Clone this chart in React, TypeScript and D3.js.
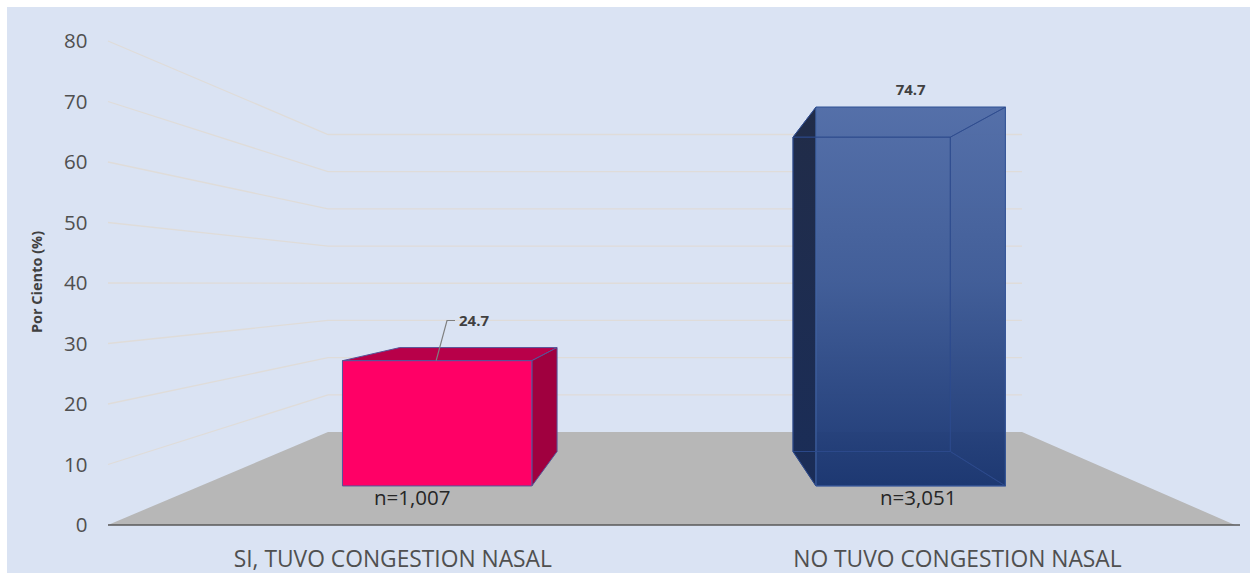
import React from "react";
import * as d3 from "d3";

const categories = ["SI, TUVO CONGESTION NASAL", "NO TUVO CONGESTION NASAL"];
const percents = [24.7, 74.7];
const counts = ["n=1,007", "n=3,051"];
const yTicks = [0, 10, 20, 30, 40, 50, 60, 70, 80];

const width = 1250;
const height = 573;
const font = "'Open Sans', sans-serif";

// the 3D box of the chart: front plane and back wall as screen positions
const frontY = d3.scaleLinear().domain([0, 80]).range([525, 41]);
const backY = d3.scaleLinear().domain([0, 80]).range([432, 134.5]);
const leftX = d3.scaleLinear().domain([0, 1]).range([108, 328]);
const rightX = d3.scaleLinear().domain([0, 1]).range([1235, 1022]);

// bars sit between these two depths
const barFront = 0.42;
const barBack = 0.79;

const band = d3
  .scaleBand<string>()
  .domain(categories)
  .range([0, 1.002])
  .paddingInner(0.6)
  .paddingOuter(0.3);

// u: across the floor (0-1), v: value, t: depth (0 front, 1 back)
const project = (u: number, v: number, t: number): [number, number] => {
  const x = leftX(t) + u * (rightX(t) - leftX(t));
  const y = frontY(v) + t * (backY(v) - frontY(v));
  return [x, y];
};

const poly = (pts: [number, number][]) => d3.line()(pts) + "Z";

const barFaces = (cat: string, val: number) => {
  const u0 = band(cat) as number;
  const u1 = u0 + band.bandwidth();
  const ftl = project(u0, val, barFront);
  const ftr = project(u1, val, barFront);
  const fbl = project(u0, 0, barFront);
  const fbr = project(u1, 0, barFront);
  const btl = project(u0, val, barBack);
  const btr = project(u1, val, barBack);
  const bbl = project(u0, 0, barBack);
  const bbr = project(u1, 0, barBack);
  return {
    front: poly([ftl, ftr, fbr, fbl]),
    back: poly([btl, btr, bbr, bbl]),
    left: poly([btl, ftl, fbl, bbl]),
    right: poly([ftr, btr, bbr, fbr]),
    top: poly([ftl, btl, btr, ftr]),
    bottom: poly([fbl, bbl, bbr, fbr]),
    ftl,
    ftr,
    btl,
    btr,
    fbl,
    fbr,
  };
};

const App = () => {
  const floor = poly([project(0, 0, 0), project(0, 0, 1), project(1, 0, 1), project(1, 0, 0)]);
  const red = barFaces(categories[0], percents[0]);
  const blue = barFaces(categories[1], percents[1]);
  const redEdge = "#55559a";
  const blueEdge = "#2d4b8e";

  // leader line of the first label starts on the top front edge of the bar
  const leaderStart = [(red.ftl[0] + red.ftr[0]) / 2 - 1, red.ftl[1]];

  return (
    <svg
      width={width}
      height={height}
      style={{ position: "absolute", left: 0, top: 0, background: "#fff" }}
    >
      <defs>
        <linearGradient id="blueFace" gradientUnits="userSpaceOnUse" x1={0} x2={0} y1={blue.ftl[1]} y2={blue.fbl[1]}>
          <stop offset="0%" stopColor="#4f6ba6" />
          <stop offset="46%" stopColor="#3c5995" />
          <stop offset="100%" stopColor="#17336f" />
        </linearGradient>
        <linearGradient id="blueSide" gradientUnits="userSpaceOnUse" x1={0} x2={0} y1={blue.ftl[1]} y2={blue.fbl[1]}>
          <stop offset="0%" stopColor="#212c48" />
          <stop offset="100%" stopColor="#1a2d58" />
        </linearGradient>
      </defs>
      <rect x={7} y={7} width={width - 7} height={height - 7} fill="#dae3f3" />

      {/* floor */}
      <path d={floor} fill="#b7b7b7" />

      {/* gridlines bend at the back wall */}
      {yTicks
        .filter((t) => t > 0)
        .map((t) => (
          <path
            key={t}
            d={d3.line()([project(0, t, 0), project(0, t, 1), project(1, t, 1)]) as string}
            fill="none"
            stroke="#dfdcd9"
            strokeWidth={1.3}
          />
        ))}

      {/* axis baseline */}
      <line x1={108} x2={1240} y1={frontY(0)} y2={frontY(0)} stroke="#595959" strokeWidth={1.6} />

      {/* y ticks */}
      {yTicks.map((t) => (
        <text
          key={t}
          x={87.5}
          y={frontY(t)}
          dy="0.35em"
          textAnchor="end"
          fontFamily={font}
          fontSize={20.5}
          fill="#505050"
        >
          {t}
        </text>
      ))}

      <text
        transform="translate(42,282) rotate(-90)"
        textAnchor="middle"
        fontFamily={font}
        fontSize={14.5}
        fontWeight={700}
        fill="#404040"
      >
        Por Ciento (%)
      </text>

      {/* red bar */}
      <g stroke={redEdge} strokeWidth={1}>
        <path d={red.top} fill="#b80049" />
        <path d={red.right} fill="#a0003f" />
        <path d={red.front} fill="#ff0066" />
      </g>

      {/* blue bar: dark left side, the rest one see-through front face */}
      <path d={blue.left} fill="url(#blueSide)" stroke="#27407c" strokeWidth={1} />
      <path d={blue.front} fill="url(#blueFace)" fillOpacity={0.96} stroke="#4468a8" strokeWidth={1} />
      <g fill="none" stroke={blueEdge} strokeWidth={1} strokeOpacity={0.75}>
        <path d={blue.right} />
        <path d={blue.top} />
        <path d={blue.bottom} />
        <path d={blue.back} />
      </g>

      {/* leader + value labels */}
      <path
        d={`M${leaderStart[0]},${leaderStart[1]}L447,320.5H455`}
        fill="none"
        stroke="#7f7f7f"
        strokeWidth={1.2}
      />
      <text x={459} y={321} dy="0.35em" fontFamily={font} fontSize={15} fontWeight={700} fill="#404040">
        {percents[0]}
      </text>
      <text
        x={(blue.ftl[0] + blue.ftr[0]) / 2}
        y={90}
        dy="0.35em"
        textAnchor="middle"
        fontFamily={font}
        fontSize={15}
        fontWeight={700}
        fill="#404040"
      >
        {percents[1]}
      </text>

      {/* n labels */}
      {[red, blue].map((b, i) => (
        <text
          key={counts[i]}
          x={(b.fbl[0] + b.fbr[0]) / 2 - (i === 0 ? 25 : -7.5)}
          y={b.fbl[1] + 12}
          dy="0.35em"
          textAnchor="middle"
          fontFamily={font}
          fontSize={20.5}
          fill="#262626"
        >
          {counts[i]}
        </text>
      ))}

      {/* category labels */}
      {categories.map((c) => (
        <text
          key={c}
          x={project((band(c) as number) + band.bandwidth() / 2, 0, 0)[0] + 2.5}
          y={559}
          dy="0.35em"
          textAnchor="middle"
          fontFamily={font}
          fontSize={22.8}
          fill="#505050"
        >
          {c}
        </text>
      ))}
    </svg>
  );
};

export default App;
